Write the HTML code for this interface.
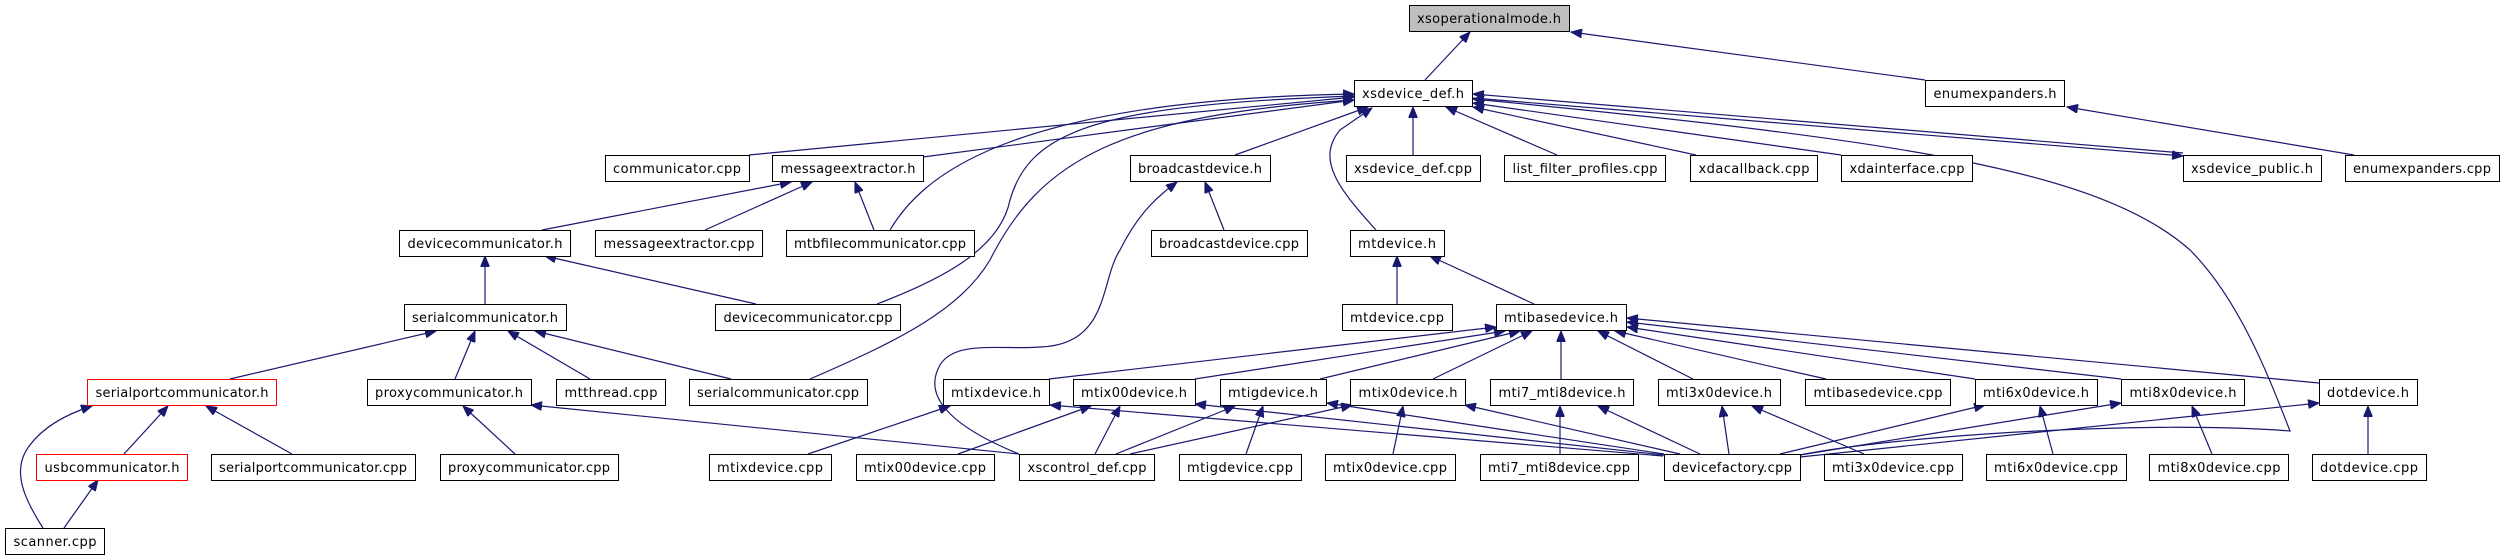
<!DOCTYPE html>
<html><head><meta charset="utf-8"><style>
html,body{margin:0;padding:0;background:#fff;}
svg{display:block;}
.n rect{fill:#fff;stroke:#000;stroke-width:1;}
.n text{font-family:"DejaVu Sans","Liberation Sans",sans-serif;font-size:13px;fill:#000;text-anchor:middle;}
.e{fill:none;stroke:#191970;stroke-width:1.2;marker-end:url(#a);}
</style></head><body>
<svg width="2505" height="560" viewBox="0 0 2505 560" xmlns="http://www.w3.org/2000/svg">
<defs><marker id="a" markerUnits="userSpaceOnUse" markerWidth="12" markerHeight="9" refX="11" refY="4.5" orient="auto"><path d="M0,0 L11,4.5 L0,9 z" fill="#191970" stroke="#191970"/></marker></defs>
<g>
<line class="e" x1="1425" y1="80" x2="1470" y2="32"/>
<line class="e" x1="1925" y1="80" x2="1571" y2="32"/>
<line class="e" x1="2354" y1="155" x2="2067" y2="107"/>
<line class="e" x1="749" y1="155" x2="1354" y2="97"/>
<line class="e" x1="923" y1="157" x2="1354" y2="100"/>
<path class="e" d="M890,230 C920,180 1000,100 1354,94"/>
<path class="e" d="M877,304 C940,280 1000,250 1010,200 C1030,130 1100,105 1354,96"/>
<path class="e" d="M810,379 C900,340 960,310 990,260 C1040,160 1120,115 1354,100"/>
<line class="e" x1="1235" y1="155" x2="1368" y2="107"/>
<line class="e" x1="1413" y1="155" x2="1413" y2="107"/>
<line class="e" x1="1557" y1="155" x2="1446" y2="107"/>
<line class="e" x1="1696" y1="155" x2="1473" y2="107"/>
<line class="e" x1="1841" y1="155" x2="1473" y2="103"/>
<line class="e" x1="1473" y1="98" x2="2183" y2="156"/>
<line class="e" x1="2183" y1="153" x2="1473" y2="94"/>
<path class="e" d="M1376,230 C1340,190 1315,160 1340,130 L1372,108"/>
<path class="e" d="M1800,455 C1900,435 2150,420 2290,431 C2270,380 2240,300 2190,250 C2100,170 1900,140 1473,99"/>
<line class="e" x1="542" y1="230" x2="791" y2="182"/>
<line class="e" x1="705" y1="230" x2="812" y2="182"/>
<line class="e" x1="874" y1="230" x2="855" y2="182"/>
<line class="e" x1="485" y1="304" x2="485" y2="256"/>
<line class="e" x1="756" y1="304" x2="545" y2="256"/>
<line class="e" x1="230" y1="379" x2="436" y2="331"/>
<line class="e" x1="455" y1="379" x2="475" y2="331"/>
<line class="e" x1="590" y1="379" x2="508" y2="331"/>
<line class="e" x1="731" y1="379" x2="535" y2="331"/>
<line class="e" x1="124" y1="454" x2="168" y2="406"/>
<line class="e" x1="292" y1="454" x2="206" y2="406"/>
<path class="e" d="M43,528 C25,500 10,470 30,445 C45,425 70,413 92,406"/>
<line class="e" x1="64" y1="528" x2="98" y2="480"/>
<line class="e" x1="515" y1="454" x2="463" y2="406"/>
<line class="e" x1="1019" y1="454" x2="531" y2="405"/>
<line class="e" x1="1224" y1="230" x2="1205" y2="182"/>
<path class="e" d="M1019,454 C960,430 920,400 940,365 C955,340 1000,350 1040,347 C1110,345 1100,280 1120,250 C1140,210 1160,195 1177,182"/>
<line class="e" x1="1397" y1="304" x2="1397" y2="256"/>
<line class="e" x1="1534" y1="304" x2="1430" y2="256"/>
<line class="e" x1="1049" y1="379" x2="1496" y2="327"/>
<line class="e" x1="1195" y1="379" x2="1505" y2="331"/>
<line class="e" x1="1320" y1="379" x2="1520" y2="331"/>
<line class="e" x1="1433" y1="379" x2="1532" y2="331"/>
<line class="e" x1="1561" y1="379" x2="1561" y2="331"/>
<line class="e" x1="1693" y1="379" x2="1598" y2="331"/>
<line class="e" x1="1826" y1="379" x2="1615" y2="331"/>
<line class="e" x1="1975" y1="379" x2="1627" y2="327"/>
<line class="e" x1="2121" y1="379" x2="1627" y2="322"/>
<line class="e" x1="2319" y1="383" x2="1627" y2="318"/>
<line class="e" x1="808" y1="454" x2="950" y2="406"/>
<line class="e" x1="1663" y1="456" x2="1050" y2="405"/>
<line class="e" x1="958" y1="454" x2="1091" y2="406"/>
<line class="e" x1="1095" y1="454" x2="1120" y2="406"/>
<line class="e" x1="1664" y1="455" x2="1195" y2="404"/>
<line class="e" x1="1116" y1="454" x2="1235" y2="406"/>
<line class="e" x1="1246" y1="454" x2="1263" y2="406"/>
<line class="e" x1="1664" y1="454" x2="1327" y2="403"/>
<line class="e" x1="1130" y1="454" x2="1352" y2="405"/>
<line class="e" x1="1393" y1="454" x2="1403" y2="406"/>
<line class="e" x1="1680" y1="454" x2="1465" y2="405"/>
<line class="e" x1="1560" y1="454" x2="1560" y2="406"/>
<line class="e" x1="1700" y1="454" x2="1598" y2="406"/>
<line class="e" x1="1729" y1="454" x2="1722" y2="406"/>
<line class="e" x1="1864" y1="454" x2="1752" y2="406"/>
<line class="e" x1="1780" y1="454" x2="1985" y2="405"/>
<line class="e" x1="2053" y1="454" x2="2040" y2="406"/>
<line class="e" x1="1800" y1="455" x2="2121" y2="403"/>
<line class="e" x1="2212" y1="454" x2="2192" y2="406"/>
<line class="e" x1="1800" y1="457" x2="2319" y2="403"/>
<line class="e" x1="2368" y1="454" x2="2368" y2="406"/>
</g>
<g class="n">
<rect x="1409.5" y="5.5" width="160" height="26" style="fill:#bfbfbf"/><text x="1489" y="23" textLength="144">xsoperationalmode.h</text>
<rect x="1354.5" y="80.5" width="118" height="26"/><text x="1413" y="98" textLength="102">xsdevice_def.h</text>
<rect x="1925.5" y="80.5" width="139" height="26"/><text x="1995" y="98" textLength="123">enumexpanders.h</text>

<rect x="605.5" y="155.5" width="144" height="26"/><text x="677" y="173" textLength="128">communicator.cpp</text>
<rect x="772.5" y="155.5" width="151" height="26"/><text x="848" y="173" textLength="135">messageextractor.h</text>
<rect x="1130.5" y="155.5" width="140" height="26"/><text x="1200" y="173" textLength="124">broadcastdevice.h</text>
<rect x="1346.5" y="155.5" width="134" height="26"/><text x="1413" y="173" textLength="118">xsdevice_def.cpp</text>
<rect x="1504.5" y="155.5" width="161" height="26"/><text x="1585" y="173" textLength="145">list_filter_profiles.cpp</text>
<rect x="1690.5" y="155.5" width="127" height="26"/><text x="1754" y="173" textLength="111">xdacallback.cpp</text>
<rect x="1841.5" y="155.5" width="131" height="26"/><text x="1907" y="173" textLength="115">xdainterface.cpp</text>
<rect x="2183.5" y="155.5" width="138" height="26"/><text x="2252" y="173" textLength="122">xsdevice_public.h</text>
<rect x="2345.5" y="155.5" width="154" height="26"/><text x="2422" y="173" textLength="138">enumexpanders.cpp</text>

<rect x="399.5" y="230.5" width="171" height="26"/><text x="485" y="248" textLength="155">devicecommunicator.h</text>
<rect x="595.5" y="230.5" width="167" height="26"/><text x="679" y="248" textLength="151">messageextractor.cpp</text>
<rect x="786.5" y="230.5" width="188" height="26"/><text x="880" y="248" textLength="172">mtbfilecommunicator.cpp</text>
<rect x="1151.5" y="230.5" width="156" height="26"/><text x="1229" y="248" textLength="140">broadcastdevice.cpp</text>
<rect x="1350.5" y="230.5" width="94" height="26"/><text x="1397" y="248" textLength="78">mtdevice.h</text>

<rect x="404.5" y="304.5" width="162" height="26"/><text x="485" y="322" textLength="146">serialcommunicator.h</text>
<rect x="715.5" y="304.5" width="185" height="26"/><text x="808" y="322" textLength="169">devicecommunicator.cpp</text>
<rect x="1342.5" y="304.5" width="110" height="26"/><text x="1397" y="322" textLength="94">mtdevice.cpp</text>
<rect x="1496.5" y="304.5" width="130" height="26"/><text x="1561" y="322" textLength="114">mtibasedevice.h</text>

<rect x="87.5" y="379.5" width="189" height="26" style="stroke:#f00"/><text x="182" y="397" textLength="173">serialportcommunicator.h</text>
<rect x="367.5" y="379.5" width="164" height="26"/><text x="449" y="397" textLength="148">proxycommunicator.h</text>
<rect x="556.5" y="379.5" width="109" height="26"/><text x="611" y="397" textLength="93">mtthread.cpp</text>
<rect x="689.5" y="379.5" width="178" height="26"/><text x="778" y="397" textLength="162">serialcommunicator.cpp</text>
<rect x="943.5" y="379.5" width="106" height="26"/><text x="996" y="397" textLength="90">mtixdevice.h</text>
<rect x="1073.5" y="379.5" width="122" height="26"/><text x="1134" y="397" textLength="106">mtix00device.h</text>
<rect x="1220.5" y="379.5" width="106" height="26"/><text x="1273" y="397" textLength="90">mtigdevice.h</text>
<rect x="1350.5" y="379.5" width="115" height="26"/><text x="1408" y="397" textLength="99">mtix0device.h</text>
<rect x="1490.5" y="379.5" width="143" height="26"/><text x="1562" y="397" textLength="127">mti7_mti8device.h</text>
<rect x="1658.5" y="379.5" width="122" height="26"/><text x="1719" y="397" textLength="106">mti3x0device.h</text>
<rect x="1805.5" y="379.5" width="145" height="26"/><text x="1878" y="397" textLength="129">mtibasedevice.cpp</text>
<rect x="1975.5" y="379.5" width="122" height="26"/><text x="2036" y="397" textLength="106">mti6x0device.h</text>
<rect x="2121.5" y="379.5" width="123" height="26"/><text x="2183" y="397" textLength="107">mti8x0device.h</text>
<rect x="2319.5" y="379.5" width="98" height="26"/><text x="2368" y="397" textLength="82">dotdevice.h</text>

<rect x="36.5" y="454.5" width="151" height="26" style="stroke:#f00"/><text x="112" y="472" textLength="135">usbcommunicator.h</text>
<rect x="211.5" y="454.5" width="204" height="26"/><text x="313" y="472" textLength="188">serialportcommunicator.cpp</text>
<rect x="440.5" y="454.5" width="178" height="26"/><text x="529" y="472" textLength="162">proxycommunicator.cpp</text>
<rect x="709.5" y="454.5" width="122" height="26"/><text x="770" y="472" textLength="106">mtixdevice.cpp</text>
<rect x="856.5" y="454.5" width="138" height="26"/><text x="925" y="472" textLength="122">mtix00device.cpp</text>
<rect x="1019.5" y="454.5" width="135" height="26"/><text x="1087" y="472" textLength="119">xscontrol_def.cpp</text>
<rect x="1179.5" y="454.5" width="122" height="26"/><text x="1240" y="472" textLength="106">mtigdevice.cpp</text>
<rect x="1325.5" y="454.5" width="130" height="26"/><text x="1390" y="472" textLength="114">mtix0device.cpp</text>
<rect x="1480.5" y="454.5" width="158" height="26"/><text x="1559" y="472" textLength="142">mti7_mti8device.cpp</text>
<rect x="1664.5" y="454.5" width="136" height="26"/><text x="1732" y="472" textLength="120">devicefactory.cpp</text>
<rect x="1824.5" y="454.5" width="138" height="26"/><text x="1893" y="472" textLength="122">mti3x0device.cpp</text>
<rect x="1986.5" y="454.5" width="140" height="26"/><text x="2056" y="472" textLength="124">mti6x0device.cpp</text>
<rect x="2149.5" y="454.5" width="139" height="26"/><text x="2219" y="472" textLength="123">mti8x0device.cpp</text>
<rect x="2312.5" y="454.5" width="114" height="26"/><text x="2369" y="472" textLength="98">dotdevice.cpp</text>

<rect x="5.5" y="528.5" width="99" height="26"/><text x="55" y="546" textLength="83">scanner.cpp</text>
</g>
</svg>
</body></html>
